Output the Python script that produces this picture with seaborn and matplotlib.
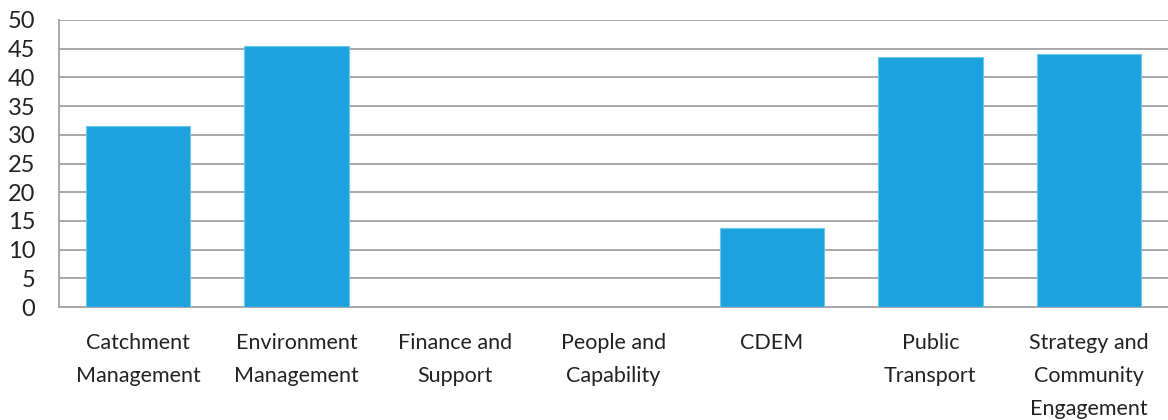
import matplotlib
matplotlib.use("Agg")
import matplotlib.pyplot as plt
import seaborn as sns
import pandas as pd

categories = [
    "Catchment\nManagement",
    "Environment\nManagement",
    "Finance and\nSupport",
    "People and\nCapability",
    "CDEM",
    "Public\nTransport",
    "Strategy and\nCommunity\nEngagement",
]
values = [31.6, 45.5, 0, 0, 13.7, 43.5, 44.0]
y_ticks = [0, 5, 10, 15, 20, 25, 30, 35, 40, 45, 50]

df = pd.DataFrame({"group": categories, "value": values})

sns.set_theme(style="white")
plt.rcParams["font.family"] = ["Lato", "DejaVu Sans"]

fig = plt.figure(figsize=(11.68, 4.2), dpi=100)
ax = fig.add_axes([59 / 1168, (420 - 307) / 420, 1 - 59 / 1168, (307 - 20) / 420])

sns.barplot(data=df, x="group", y="value", color="#1ca3dd", width=0.66,
            edgecolor="#6cc6ee", linewidth=0.8, saturation=1, ax=ax, zorder=3)

ax.set_ylim(0, 50)
ax.set_xlim(-0.5, len(categories) - 0.5)
ax.set_yticks(y_ticks)
ax.yaxis.grid(True, color="#a8a8a8", linewidth=1.4, zorder=0)
ax.set_axisbelow(True)
ax.set_xlabel("")
ax.set_ylabel("")

for side in ["top", "right"]:
    ax.spines[side].set_visible(False)
for side in ["left", "bottom"]:
    ax.spines[side].set_color("#a8a8a8")
    ax.spines[side].set_linewidth(1.4)

ax.tick_params(axis="y", labelsize=17, colors="#222222", length=0, pad=17)
ax.tick_params(axis="x", labelsize=15.5, colors="#222222", length=0, pad=19)
for lbl in ax.get_xticklabels():
    lbl.set_linespacing(1.8)
    lbl.set_verticalalignment("top")

fig.savefig("out.png", dpi=100)
